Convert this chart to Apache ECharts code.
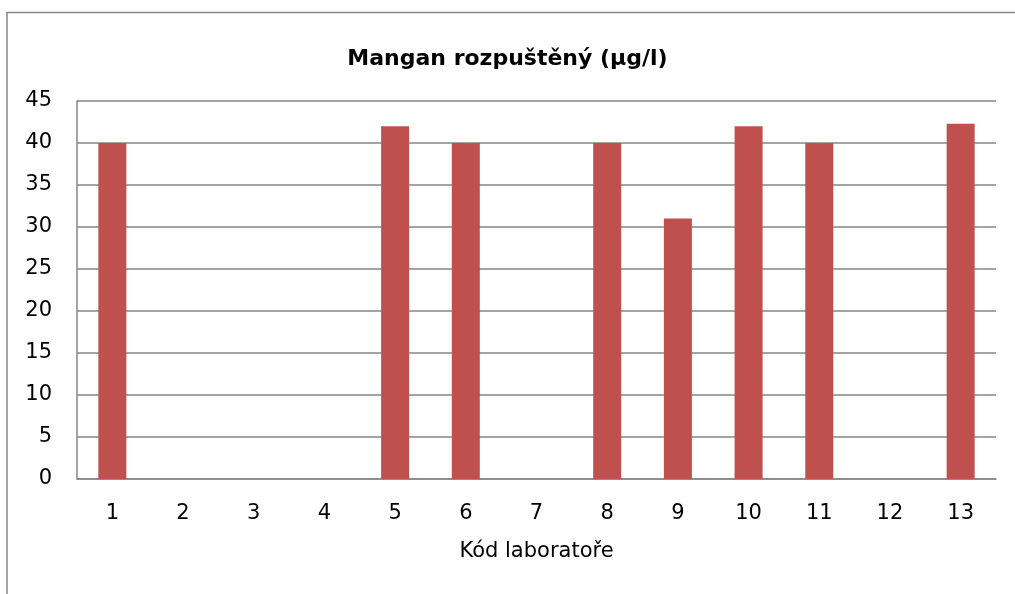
<!DOCTYPE html>
<html>
<head>
<meta charset="utf-8">
<script src="https://cdn.jsdelivr.net/npm/echarts@6/dist/echarts.min.js"></script>
<style>
  html, body { margin: 0; padding: 0; background: #fff; }
  #chart { width: 1015px; height: 594px; }
</style>
</head>
<body>
<div id="chart"></div>
<script>
const labCodes = ['1', '2', '3', '4', '5', '6', '7', '8', '9', '10', '11', '12', '13']
const manganValues = [40, null, null, null, 42, 40, null, 40, 31, 42, 40, null, 42.3]
const yTicks = { min: 0, max: 45, interval: 5 }

const chart = echarts.init(document.getElementById('chart'))

const font = '"DejaVu Sans", sans-serif'
const frameColor = '#868686'

chart.setOption({
  animation: false,
  title: {
    text: 'Mangan rozpuštěný (µg/l)',
    left: 'center',
    top: 43,
    textStyle: { fontFamily: font, fontSize: 22, fontWeight: 'bold', color: '#000' },
  },
  // outer chart frame: only top and left edges are visible in the picture
  graphic: [
    {
      type: 'line',
      shape: { x1: 7, y1: 12.5, x2: 1015, y2: 12.5 },
      style: { stroke: frameColor, lineWidth: 1.5 },
      silent: true,
    },
    {
      type: 'line',
      shape: { x1: 7, y1: 12, x2: 7, y2: 594 },
      style: { stroke: frameColor, lineWidth: 1.5 },
      silent: true,
    },
  ],
  grid: {
    left: 77,
    right: 19,
    top: 101,
    bottom: 115,
  },
  xAxis: {
    type: 'category',
    data: labCodes,
    name: 'Kód laboratoře',
    nameLocation: 'middle',
    nameGap: 62,
    nameTextStyle: { fontFamily: font, fontSize: 21, color: '#000' },
    axisLine: { lineStyle: { color: frameColor, width: 1.5 } },
    axisTick: { show: false },
    axisLabel: { fontFamily: font, fontSize: 21, color: '#000', margin: 24 },
  },
  yAxis: {
    type: 'value',
    min: yTicks.min,
    max: yTicks.max,
    interval: yTicks.interval,
    axisLine: { show: true, lineStyle: { color: frameColor, width: 1.5 } },
    axisTick: { show: false },
    axisLabel: { fontFamily: font, fontSize: 21, color: '#000', margin: 25 },
    splitLine: { lineStyle: { color: frameColor, width: 1.5 } },
  },
  series: [
    {
      type: 'bar',
      data: manganValues,
      barWidth: 28,
      itemStyle: { color: '#C0504D' },
    },
  ],
})
</script>
</body>
</html>
